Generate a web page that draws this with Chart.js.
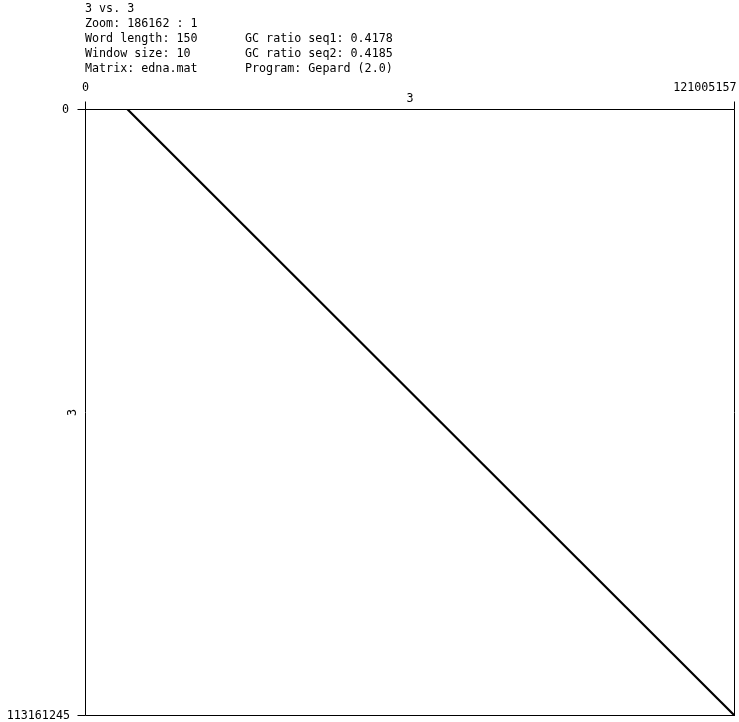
<!DOCTYPE html>
<html><head><meta charset="utf-8">
<script src="https://cdn.jsdelivr.net/npm/chart.js@4/dist/chart.umd.min.js"></script>
<style>html,body{margin:0;padding:0;background:#fff;}canvas{display:block;}</style>
</head><body>
<canvas id="c" width="739" height="722"></canvas>
<script>
// Header info
const headerLeft = ["3 vs. 3", "Zoom: 186162 : 1", "Word length: 150", "Window size: 10", "Matrix: edna.mat"];
const headerRight = ["GC ratio seq1: 0.4178", "GC ratio seq2: 0.4185", "Program: Gepard (2.0)"];
// Axes
const xName = "3";
const yName = "3";
const xMin = 0, xMax = 121005157;
const yMin = 0, yMax = 113161245;
// Diagonal match (seq1 position, seq2 position)
const matchX = [7843912, 121005157];
const matchY = [0, 113161245];

const FONT = '11.7px "DejaVu Sans Mono", "Liberation Mono", monospace';

const decor = {
  id: 'decor',
  afterDraw(chart) {
    const ctx = chart.ctx;
    const xs = chart.scales.x, ys = chart.scales.y;
    const L = Math.round(xs.getPixelForValue(xMin)) + 0.5;
    const R = Math.round(xs.getPixelForValue(xMax)) - 0.5;
    const T = Math.round(ys.getPixelForValue(yMin)) + 0.5;
    const B = Math.round(ys.getPixelForValue(yMax)) - 0.5;
    ctx.save();
    ctx.strokeStyle = '#000';
    ctx.lineWidth = 1;
    ctx.beginPath();
    ctx.rect(L, T, R - L, B - T);
    // ticks
    ctx.moveTo(L, T); ctx.lineTo(L, T - 8);
    ctx.moveTo(R, T); ctx.lineTo(R, T - 8);
    ctx.moveTo(L, T); ctx.lineTo(L - 8, T);
    ctx.moveTo(L, B); ctx.lineTo(L - 8, B);
    ctx.stroke();
    ctx.fillStyle = '#000';
    ctx.font = FONT;
    ctx.textBaseline = 'middle';
    ctx.textAlign = 'left';
    headerLeft.forEach((t, i) => ctx.fillText(t, 85, 9 + i * 15));
    headerRight.forEach((t, i) => ctx.fillText(t, 245, 39 + i * 15));
    // x ticks
    ctx.textAlign = 'center';
    ctx.fillText(String(xMin), L, 88);
    ctx.fillText(xName, (L + R) / 2, 99);
    ctx.textAlign = 'right';
    ctx.fillText(String(xMax), R + 2, 88);
    // y ticks
    ctx.fillText(String(yMin), 69, T);
    ctx.fillText(String(yMax), 70, B);
    ctx.save();
    ctx.translate(73, (T + B) / 2);
    ctx.rotate(-Math.PI / 2);
    ctx.textAlign = 'center';
    ctx.fillText(yName, 0, 0);
    ctx.restore();
    ctx.restore();
  }
};

new Chart(document.getElementById('c'), {
  type: 'scatter',
  data: {
    datasets: [{
      data: matchX.map((x, i) => ({x, y: matchY[i]})),
      showLine: true,
      borderColor: '#000',
      borderWidth: 2.2,
      pointRadius: 0,
      fill: false
    }]
  },
  options: {
    responsive: false,
    animation: false,
    events: [],
    layout: {padding: {left: 85, top: 109, right: 4, bottom: 6}},
    plugins: {legend: {display: false}, tooltip: {enabled: false}},
    scales: {
      x: {type: 'linear', min: xMin, max: xMax, display: false},
      y: {type: 'linear', min: yMin, max: yMax, reverse: true, display: false}
    }
  },
  plugins: [decor]
});
</script>
</body></html>
